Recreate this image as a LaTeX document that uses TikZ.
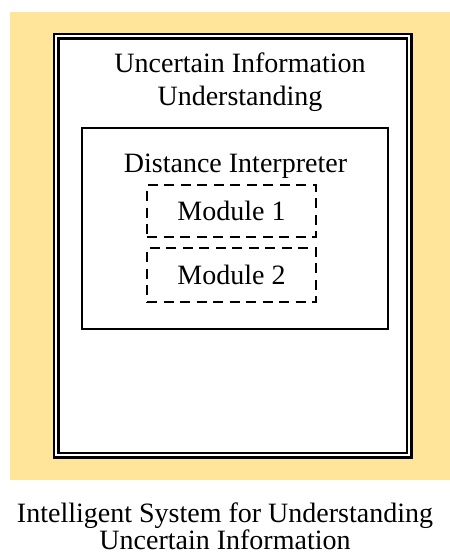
\documentclass[tikz,border=0pt]{standalone}
\usepackage{fontspec}
\setmainfont{Liberation Serif}
\begin{document}
\begin{tikzpicture}[x=1pt,y=-1pt]
        \tikzstyle{label}=[inner sep=0pt,anchor=base,font=\fontsize{28}{33}\selectfont]
        \tikzstyle{system}=[rectangle,draw=black,line width=2.6pt,double=white,double distance=1.8pt,fill=white,minimum width=353pt,minimum height=419pt,inner sep=0pt]
        \tikzstyle{interpreter}=[rectangle,draw=black,line width=2.2pt,minimum width=306pt,minimum height=201pt,inner sep=0pt]
        \tikzstyle{module}=[rectangle,draw=black,line width=2.8pt,dash pattern=on 10pt off 6.5pt,minimum width=169pt,inner sep=0pt,font=\fontsize{28}{33}\selectfont]
        \useasboundingbox (0,0) rectangle (450,555);
        % yellow backdrop
        \fill [fill={rgb,255:red,255;green,229;blue,153}] (10,12) rectangle (450,480);
        \begin{scope}
           \node [system] (sys) at (232.5,245.5) {};
           \node [label] (t1) at (240,72) {Uncertain Information};
           \node [label] (t2) at (240,105) {Understanding};
           \node [interpreter] (di) at (235,228.5) {};
           \node [label] (dit) at (235.5,172) {Distance Interpreter};
           \node [module,minimum height=52pt] (m1) at (231.5,211) {Module 1};
           \node [module,minimum height=54pt] (m2) at (231.5,275) {Module 2};
        \end{scope}
        % caption
        \node [label] (c1) at (225,522) {Intelligent System for Understanding};
        \node [label] (c2) at (225,549) {Uncertain Information};
      \end{tikzpicture}
\end{document}
